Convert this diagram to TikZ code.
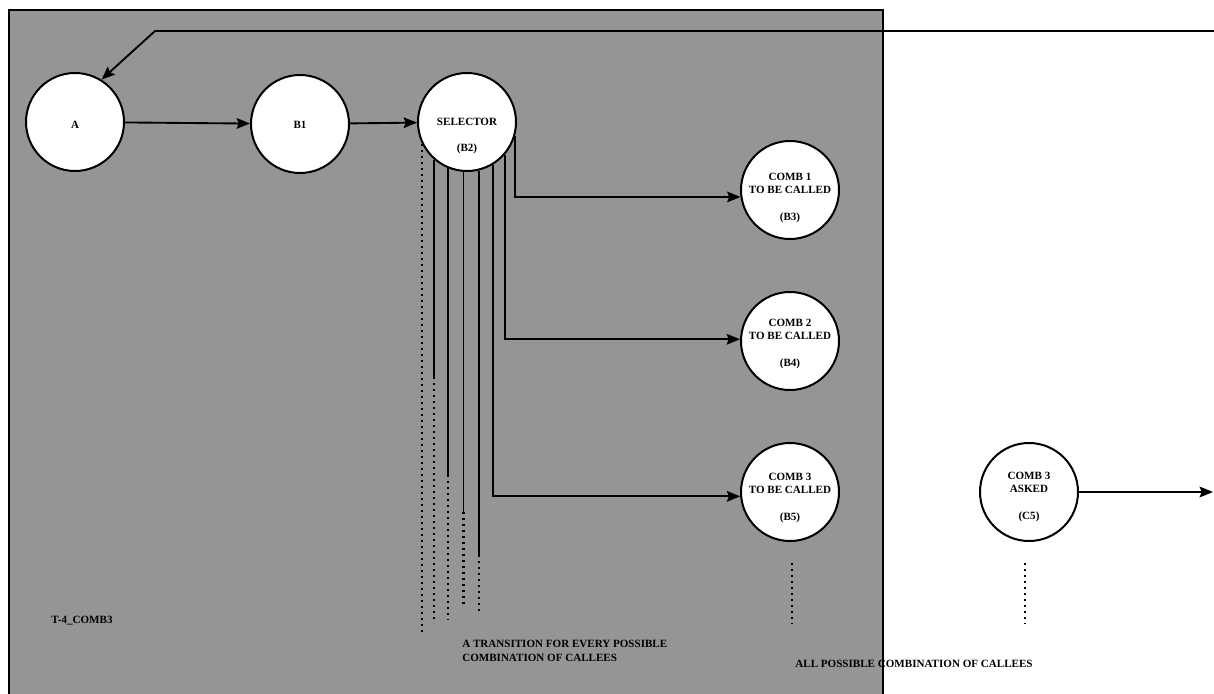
\documentclass[tikz,border=0pt]{standalone}
\usepackage{fontspec}
\setmainfont{Liberation Serif}
\usepackage{tikz}
\usetikzlibrary{arrows.meta}

\definecolor{boxgray}{RGB}{149,149,149}

\begin{document}
\begin{tikzpicture}[x=0.75pt, y=-0.75pt,
    state/.style={circle, draw, fill=white, line width=1.5pt, minimum size=73.5pt, inner sep=0pt},
    lbl/.style={font=\fontsize{8.3}{10.1}\selectfont\bfseries, align=center, inner sep=0pt},
    wire/.style={line width=1.4pt},
    arr/.style={wire, -{Stealth[length=10pt, width=8pt, inset=1.5pt]}},
    dots/.style={line width=1.7pt, dash pattern=on 1.7pt off 2.8pt}]
    \useasboundingbox (0,0) rectangle (1214,693);

    % Grey block round the B states
    \draw[line width=1.5pt, fill=boxgray] (9,10) rectangle (883,700);

    % The states
    \node[state] (a) at (75,122) {};
    \node[state] (b1) at (300,124) {};
    \node[state] (sel) at (467,122) {};
    \node[state] (b3) at (790,190) {};
    \node[state] (b4) at (790,341) {};
    \node[state] (b5) at (790,492) {};
    \node[state] (c5) at (1029,492) {};

    % Their texts
    \node[lbl] (atxt) at (75,125) {A};
    \node[lbl] (b1txt) at (300,125) {B1};
    \node[lbl] (seltxt) at (467,136) {SELECTOR\\[10.1pt](B2)};
    \node[lbl] (b3txt) at (790,198) {COMB 1\\TO BE CALLED\\[10.1pt](B3)};
    \node[lbl] (b4txt) at (790,344) {COMB 2\\TO BE CALLED\\[10.1pt](B4)};
    \node[lbl] (b5txt) at (790,498) {COMB 3\\TO BE CALLED\\[10.1pt](B5)};
    \node[lbl] (c5txt) at (1029,497) {COMB 3\\ASKED\\[10.1pt](C5)};

    % Incoming transition from the right
    \coordinate (feed) at (1214,31);
    \coordinate (bend) at (155,31);
    \draw[arr] (feed) -- (bend) -- (a.58);

    % A -> B1 -> SELECTOR
    \draw[arr] (a) -- (b1);
    \draw[arr] (b1) -- (sel);

    % Transitions of the selector that are only hinted at
    \draw[dots] (sel.-154) -- (sel.-154 |- 0,633);
    \foreach \ang/\solidend/\dotend in {-131/377/623, -112/475/620, -94/512/607, -76/555/613} {
        \draw[wire] (sel.\ang) -- (sel.\ang |- 0,\solidend);
        \draw[dots] (sel.\ang |- 0,\solidend) -- (sel.\ang |- 0,\dotend);
    }

    % Selector -> COMB states
    \draw[arr] (sel.-16) |- (b3.188);
    \draw[arr] (sel.-41) |- (b4.178);
    \draw[arr] (sel.-59) |- (b5.185);

    % C5 goes on to the right
    \coordinate (out) at (1213,492);
    \draw[arr] (c5) -- (out);

    % More states below
    \draw[dots] (792,563) -- (792,624);
    \draw[dots] (1025,563) -- (1025,624);

    % Notes
    \node[lbl] (blockname) at (82,621) {T-4\_COMB3};
    \node[lbl, align=left, anchor=west] (note1) at (462,651) {A TRANSITION FOR EVERY POSSIBLE\\COMBINATION OF CALLEES};
    \node[lbl] (note2) at (914,664) {ALL POSSIBLE COMBINATION OF CALLEES};
\end{tikzpicture}
\end{document}
